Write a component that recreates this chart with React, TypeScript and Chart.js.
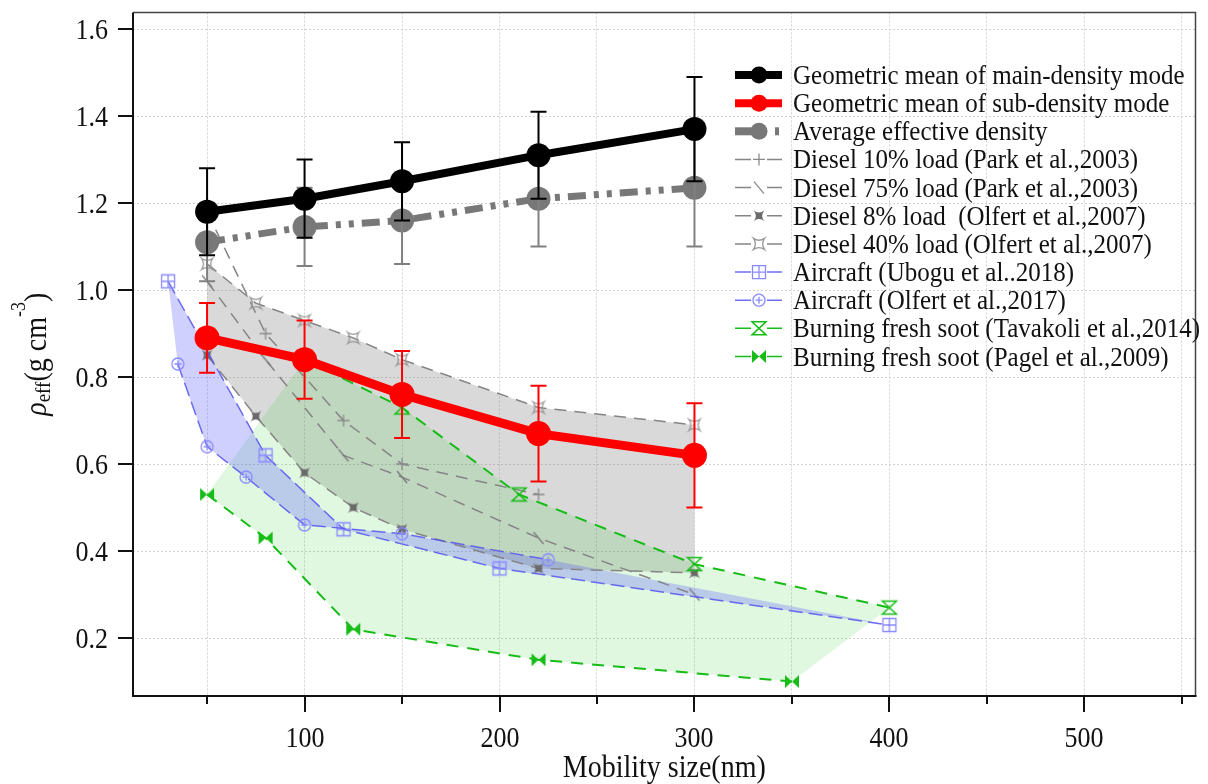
import React, { useEffect, useRef } from 'react';
import { Chart, registerables } from 'chart.js';

Chart.register(...registerables);

// ---------- data ----------
const sizes = [50, 100, 150, 220, 300];
const mainDensity = [1.18, 1.21, 1.25, 1.31, 1.37];
const mainError = [0.10, 0.09, 0.09, 0.10, 0.12];
const subDensity = [0.89, 0.84, 0.76, 0.67, 0.62];
const subError = [0.08, 0.09, 0.10, 0.11, 0.12];
const avgDensity = [1.11, 1.145, 1.16, 1.21, 1.235];
const avgError = [0.09, 0.09, 0.10, 0.11, 0.135];

const park10X = [50, 80, 120, 150, 220];
const park10Y = [1.18, 0.90, 0.70, 0.60, 0.53];
const park75X = [50, 80, 120, 150, 220, 300];
const park75Y = [1.02, 0.84, 0.62, 0.57, 0.43, 0.30];
const olfert07X = [50, 75, 100, 125, 150, 220, 300];
const olfert8Y = [0.85, 0.71, 0.58, 0.50, 0.45, 0.36, 0.35];
const olfert40Y = [1.06, 0.97, 0.93, 0.89, 0.84, 0.73, 0.69];
const uboguX = [30, 80, 120, 200, 400];
const uboguY = [1.02, 0.62, 0.45, 0.36, 0.23];
const olfert17X = [35, 50, 70, 100, 150, 225];
const olfert17Y = [0.83, 0.64, 0.57, 0.46, 0.44, 0.38];
const tavakoliX = [100, 150, 210, 300, 400];
const tavakoliY = [0.84, 0.73, 0.53, 0.37, 0.27];
const pagelX = [50, 80, 125, 220, 350];
const pagelY = [0.53, 0.43, 0.22, 0.15, 0.10];

const xTicks = [50, 100, 150, 200, 250, 300, 350, 400, 450, 500, 550];
const xTickLabels = ['', '100', '', '200', '', '300', '', '400', '', '500', ''];
const yTicks = [0.2, 0.4, 0.6, 0.8, 1.0, 1.2, 1.4, 1.6];
const yTickLabels = ['0.2', '0.4', '0.6', '0.8', '1.0', '1.2', '1.4', '1.6'];
const xTitle = 'Mobility size(nm)';
const legendLabels = [
  'Geometric mean of main-density mode',
  'Geometric mean of sub-density mode',
  'Average effective density',
  'Diesel 10% load (Park et al.,2003)',
  'Diesel 75% load (Park et al.,2003)',
  'Diesel 8% load  (Olfert et al.,2007)',
  'Diesel 40% load (Olfert et al.,2007)',
  'Aircraft (Ubogu et al..2018)',
  'Aircraft (Olfert et al.,2017)',
  'Burning fresh soot (Tavakoli et al.,2014)',
  'Burning fresh soot (Pagel et al.,2009)',
];

// ---------- styles ----------
const FONT = "'Liberation Serif', 'Times New Roman', serif";
const STRETCH = 1.12;
const GRAY_LINE = '#858585';
const BLUE_LINE = 'rgba(85,85,240,0.85)';
const BLUE_MARK = '#8a8aff';
const GREEN = '#16bd16';
const AVG_GRAY = '#787878';
const AVG_DASH = [18, 8, 5, 8, 5, 8];

const pts = (xs: number[], ys: number[]) => xs.map((x, i) => ({ x, y: ys[i] }));

function stretchedText(ctx: CanvasRenderingContext2D, text: string, x: number, y: number) {
  ctx.save();
  ctx.translate(x, y);
  ctx.scale(1, STRETCH);
  ctx.fillText(text, 0, 0);
  ctx.restore();
}

function drawMarker(ctx: CanvasRenderingContext2D, kind: string, cx: number, cy: number, color: string) {
  ctx.save();
  ctx.strokeStyle = color;
  ctx.fillStyle = color;
  ctx.lineWidth = 1.3;
  ctx.setLineDash([]);
  ctx.beginPath();
  const r = 6.5;
  switch (kind) {
    case 'plus':
      ctx.moveTo(cx - 6, cy); ctx.lineTo(cx + 6, cy);
      ctx.moveTo(cx, cy - 6); ctx.lineTo(cx, cy + 6);
      ctx.stroke();
      break;
    case 'slash':
      ctx.moveTo(cx - 5, cy - 6); ctx.lineTo(cx + 5, cy + 6);
      ctx.stroke();
      break;
    case 'starFilled':
    case 'starOpen': {
      const s = 5.5, k = kind === 'starFilled' ? 0.8 : 1.8;
      ctx.moveTo(cx - s, cy - s);
      ctx.quadraticCurveTo(cx, cy - k, cx + s, cy - s);
      ctx.quadraticCurveTo(cx + k, cy, cx + s, cy + s);
      ctx.quadraticCurveTo(cx, cy + k, cx - s, cy + s);
      ctx.quadraticCurveTo(cx - k, cy, cx - s, cy - s);
      ctx.closePath();
      if (kind === 'starFilled') ctx.fill(); else ctx.stroke();
      break;
    }
    case 'squarePlus':
      ctx.rect(cx - r, cy - r, 2 * r, 2 * r);
      ctx.moveTo(cx - r, cy); ctx.lineTo(cx + r, cy);
      ctx.moveTo(cx, cy - r); ctx.lineTo(cx, cy + r);
      ctx.stroke();
      break;
    case 'circlePlus':
      ctx.arc(cx, cy, 6, 0, Math.PI * 2);
      ctx.moveTo(cx - 3.5, cy); ctx.lineTo(cx + 3.5, cy);
      ctx.moveTo(cx, cy - 3.5); ctx.lineTo(cx, cy + 3.5);
      ctx.stroke();
      break;
    case 'hourglass':
      ctx.lineWidth = 1.5;
      ctx.moveTo(cx - 7, cy - 6.5); ctx.lineTo(cx + 7, cy - 6.5);
      ctx.lineTo(cx - 7, cy + 6.5); ctx.lineTo(cx + 7, cy + 6.5);
      ctx.closePath();
      ctx.stroke();
      break;
    case 'bowtie':
      ctx.moveTo(cx - 7, cy - 6.5); ctx.lineTo(cx + 7, cy + 6.5);
      ctx.lineTo(cx + 7, cy - 6.5); ctx.lineTo(cx - 7, cy + 6.5);
      ctx.closePath();
      ctx.fill();
      break;
  }
  ctx.restore();
}

function makeMarker(kind: string, color: string) {
  const c = document.createElement('canvas');
  c.width = 18; c.height = 18;
  drawMarker(c.getContext('2d') as CanvasRenderingContext2D, kind, 9, 9, color);
  return c;
}

const legendStyles = [
  { type: 'thick', color: '#000000' },
  { type: 'thick', color: '#ff0000' },
  { type: 'avg', color: AVG_GRAY },
  { type: 'thin', color: GRAY_LINE, marker: 'plus', markerColor: '#8a8a8a' },
  { type: 'thin', color: GRAY_LINE, marker: 'slash', markerColor: '#8a8a8a' },
  { type: 'thin', color: GRAY_LINE, marker: 'starFilled', markerColor: '#6a6a6a' },
  { type: 'thin', color: GRAY_LINE, marker: 'starOpen', markerColor: '#9a9a9a' },
  { type: 'thin', color: BLUE_LINE, marker: 'squarePlus', markerColor: BLUE_MARK },
  { type: 'thin', color: BLUE_LINE, marker: 'circlePlus', markerColor: BLUE_MARK },
  { type: 'thin', color: GREEN, marker: 'hourglass', markerColor: GREEN },
  { type: 'thin', color: GREEN, marker: 'bowtie', markerColor: GREEN },
];

const errorSeries: Record<string, { values: number[]; errors: number[]; color: string }> = {
  avg: { values: avgDensity, errors: avgError, color: '#808080' },
  sub: { values: subDensity, errors: subError, color: '#ff0000' },
  main: { values: mainDensity, errors: mainError, color: '#000000' },
};

const errorBarPlugin = {
  id: 'errorBars',
  afterDatasetDraw(chart: any, args: any) {
    const ds = chart.data.datasets[args.index];
    const es = errorSeries[ds.errKey];
    if (!es) return;
    const { ctx, scales: { x, y } } = chart;
    ctx.save();
    ctx.strokeStyle = es.color;
    ctx.lineWidth = 2;
    ctx.setLineDash([]);
    sizes.forEach((s, i) => {
      const px = x.getPixelForValue(s);
      const t = y.getPixelForValue(es.values[i] + es.errors[i]);
      const b = y.getPixelForValue(es.values[i] - es.errors[i]);
      ctx.beginPath();
      ctx.moveTo(px, t); ctx.lineTo(px, b);
      ctx.moveTo(px - 8, t); ctx.lineTo(px + 8, t);
      ctx.moveTo(px - 8, b); ctx.lineTo(px + 8, b);
      ctx.stroke();
    });
    ctx.restore();
  },
};

const axesPlugin = {
  id: 'axesDecor',
  afterDraw(chart: any) {
    const { ctx, chartArea: a, scales: { x, y } } = chart;
    ctx.save();
    ctx.setLineDash([]);
    // frame top/right
    ctx.strokeStyle = '#444';
    ctx.lineWidth = 1.5;
    ctx.beginPath();
    ctx.moveTo(a.left, a.top); ctx.lineTo(a.right, a.top); ctx.lineTo(a.right, a.bottom);
    ctx.stroke();
    // axes
    ctx.strokeStyle = '#111';
    ctx.lineWidth = 2;
    ctx.beginPath();
    ctx.moveTo(a.left, a.top); ctx.lineTo(a.left, a.bottom); ctx.lineTo(a.right + 1, a.bottom);
    ctx.stroke();
    ctx.fillStyle = '#111';
    ctx.font = `26px ${FONT}`;
    // x ticks
    xTicks.forEach((v, i) => {
      const px = Math.round(x.getPixelForValue(v));
      const len = xTickLabels[i] ? 16 : 8;
      ctx.beginPath();
      ctx.moveTo(px, a.bottom); ctx.lineTo(px, a.bottom + len);
      ctx.stroke();
      if (xTickLabels[i]) {
        ctx.textAlign = 'center';
        ctx.textBaseline = 'alphabetic';
        stretchedText(ctx, xTickLabels[i], px, a.bottom + 51);
      }
    });
    // y ticks
    yTicks.forEach((v, i) => {
      const py = Math.round(y.getPixelForValue(v));
      ctx.beginPath();
      ctx.moveTo(a.left - 15, py); ctx.lineTo(a.left, py);
      ctx.stroke();
      ctx.textAlign = 'right';
      ctx.textBaseline = 'alphabetic';
      stretchedText(ctx, yTickLabels[i], a.left - 25, py + 10);
    });
    // x title
    ctx.font = `28px ${FONT}`;
    ctx.textAlign = 'center';
    stretchedText(ctx, xTitle, (a.left + a.right) / 2, 777);
    // y title
    ctx.save();
    ctx.translate(46, (a.top + a.bottom) / 2);
    ctx.rotate(-Math.PI / 2);
    ctx.scale(1, STRETCH);
    ctx.textAlign = 'left';
    const parts = [
      { t: 'ρ', f: `italic 28px ${FONT}`, dy: 0 },
      { t: 'eff', f: `19px ${FONT}`, dy: 4 },
      { t: '(g cm', f: `28px ${FONT}`, dy: 0 },
      { t: '-3', f: `18px ${FONT}`, dy: -19 },
      { t: ')', f: `28px ${FONT}`, dy: 0 },
    ];
    let total = 0;
    parts.forEach((p) => { ctx.font = p.f; total += ctx.measureText(p.t).width; });
    let cx = -total / 2;
    parts.forEach((p) => { ctx.font = p.f; ctx.fillText(p.t, cx, p.dy); cx += ctx.measureText(p.t).width; });
    ctx.restore();

    // legend
    const x0 = 735, x1 = 782, xm = 759, tx = 793;
    legendLabels.forEach((label, i) => {
      const st: any = legendStyles[i];
      const ry = 75 + i * 28.15;
      ctx.save();
      if (st.type === 'thick') {
        ctx.strokeStyle = st.color; ctx.fillStyle = st.color; ctx.lineWidth = 8;
        ctx.beginPath(); ctx.moveTo(x0, ry); ctx.lineTo(x1, ry); ctx.stroke();
        ctx.beginPath(); ctx.arc(xm, ry, 8.5, 0, Math.PI * 2); ctx.fill();
      } else if (st.type === 'avg') {
        ctx.fillStyle = st.color;
        ctx.fillRect(x0, ry - 4, 18, 8);
        ctx.beginPath(); ctx.arc(xm, ry, 8.5, 0, Math.PI * 2); ctx.fill();
        ctx.fillRect(775, ry - 4, 4, 8);
      } else {
        ctx.strokeStyle = st.color; ctx.lineWidth = 1.5;
        ctx.beginPath();
        ctx.moveTo(x0, ry); ctx.lineTo(751, ry);
        ctx.moveTo(767, ry); ctx.lineTo(x1, ry);
        ctx.stroke();
        drawMarker(ctx, st.marker, xm, ry, st.markerColor);
      }
      ctx.restore();
      ctx.fillStyle = '#111';
      ctx.font = `25px ${FONT}`;
      ctx.textAlign = 'left';
      ctx.textBaseline = 'alphabetic';
      stretchedText(ctx, label, tx, ry + 9);
    });
    ctx.restore();
  },
};

export default function App() {
  const ref = useRef<HTMLCanvasElement>(null);
  useEffect(() => {
    const canvas = ref.current as HTMLCanvasElement;
    const mk = {
      plus: makeMarker('plus', '#8a8a8a'),
      slash: makeMarker('slash', '#7a7a7a'),
      starFilled: makeMarker('starFilled', '#6a6a6a'),
      starOpen: makeMarker('starOpen', '#9a9a9a'),
      squarePlus: makeMarker('squarePlus', BLUE_MARK),
      circlePlus: makeMarker('circlePlus', BLUE_MARK),
      hourglass: makeMarker('hourglass', GREEN),
      bowtie: makeMarker('bowtie', GREEN),
    };
    const grayPoly = pts(olfert07X, olfert40Y).concat(pts(olfert07X, olfert8Y).reverse());
    const bluePoly = pts(uboguX, uboguY).concat(pts(olfert17X, olfert17Y).reverse());
    const greenPoly = pts(pagelX, pagelY).concat(pts(tavakoliX, tavakoliY).reverse());

    const polyDs = (data: any[], color: string, order: number) => ({
      data, showLine: true, fill: 'shape', backgroundColor: color, borderColor: 'transparent',
      borderWidth: 0, pointRadius: 0, order,
    });
    const thinDs = (label: string, data: any[], color: string, dash: number[], marker: any, order: number, width = 1.5) => ({
      label, data, showLine: true, fill: false, borderColor: color, borderWidth: width, borderDash: dash,
      pointStyle: marker, pointRadius: 6, order, backgroundColor: color,
    });

    const chart = new Chart(canvas, {
      type: 'scatter',
      data: {
        datasets: [
          polyDs(grayPoly, 'rgba(128,128,128,0.30)', 50),
          polyDs(greenPoly, 'rgba(0,190,0,0.12)', 49),
          polyDs(bluePoly, 'rgba(80,80,255,0.27)', 48),
          thinDs(legendLabels[3], pts(park10X, park10Y), GRAY_LINE, [12, 8], mk.plus, 30),
          thinDs(legendLabels[4], pts(park75X, park75Y), GRAY_LINE, [12, 8], mk.slash, 29),
          thinDs(legendLabels[5], pts(olfert07X, olfert8Y), GRAY_LINE, [12, 8], mk.starFilled, 28),
          thinDs(legendLabels[6], pts(olfert07X, olfert40Y), GRAY_LINE, [12, 8], mk.starOpen, 27),
          thinDs(legendLabels[7], pts(uboguX, uboguY), BLUE_LINE, [14, 6], mk.squarePlus, 26),
          thinDs(legendLabels[8], pts(olfert17X, olfert17Y), BLUE_LINE, [14, 6], mk.circlePlus, 25),
          thinDs(legendLabels[9], pts(tavakoliX, tavakoliY), GREEN, [12, 9], mk.hourglass, 24, 2),
          thinDs(legendLabels[10], pts(pagelX, pagelY), GREEN, [12, 9], mk.bowtie, 23, 2),
          {
            label: legendLabels[2], errKey: 'avg', data: pts(sizes, avgDensity), showLine: true,
            borderColor: AVG_GRAY, backgroundColor: AVG_GRAY, borderWidth: 7, borderDash: AVG_DASH,
            pointRadius: 12, pointBorderWidth: 0, order: 3,
          },
          {
            label: legendLabels[1], errKey: 'sub', data: pts(sizes, subDensity), showLine: true,
            borderColor: '#ff0000', backgroundColor: '#ff0000', borderWidth: 9,
            pointRadius: 12.5, pointBorderWidth: 0, order: 2,
          },
          {
            label: legendLabels[0], errKey: 'main', data: pts(sizes, mainDensity), showLine: true,
            borderColor: '#000000', backgroundColor: '#000000', borderWidth: 8,
            pointRadius: 12, pointBorderWidth: 0, order: 1,
          },
        ] as any,
      },
      options: {
        animation: false,
        responsive: false,
        devicePixelRatio: 1,
        layout: { padding: { top: 12, right: 2, left: 0, bottom: 0 } },
        plugins: { legend: { display: false }, tooltip: { enabled: false } },
        scales: {
          x: {
            type: 'linear', min: 12, max: 557,
            afterBuildTicks: (s: any) => { s.ticks = xTicks.map((v) => ({ value: v })); },
            afterFit: (s: any) => { s.height = 88; },
            ticks: { display: false },
            grid: { color: '#d2d2d2', lineWidth: 1, drawTicks: false },
            border: { display: false, dash: [2, 2] },
          },
          y: {
            type: 'linear', min: 0.0668, max: 1.638,
            afterBuildTicks: (s: any) => { s.ticks = yTicks.map((v) => ({ value: v })); },
            afterFit: (s: any) => { s.width = 133; },
            ticks: { display: false },
            grid: { color: '#d2d2d2', lineWidth: 1, drawTicks: false },
            border: { display: false, dash: [2, 2] },
          },
        },
      } as any,
      plugins: [errorBarPlugin, axesPlugin],
    });
    return () => chart.destroy();
  }, []);
  return (
    <div style={{ position: 'absolute', left: 0, top: 0, width: 1208, height: 784, background: '#fff' }}>
      <canvas ref={ref} width={1208} height={784} style={{ display: 'block', width: 1208, height: 784 }} />
    </div>
  );
}
